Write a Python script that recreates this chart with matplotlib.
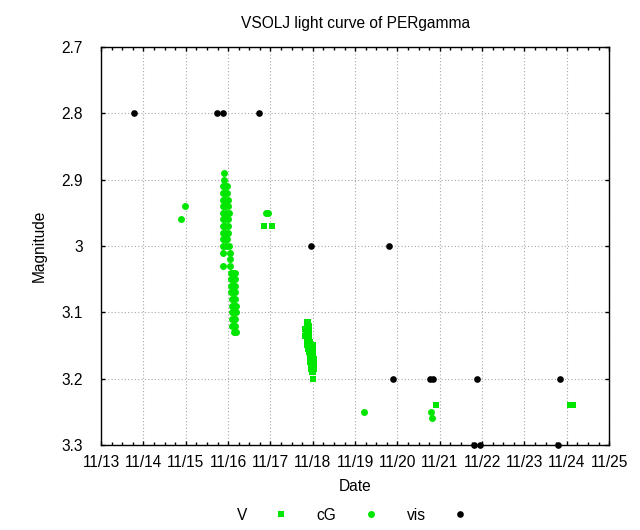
import matplotlib
matplotlib.use('Agg')
import matplotlib.pyplot as plt
from matplotlib.ticker import MultipleLocator, FuncFormatter

plt.rcParams['font.family'] = ['Liberation Sans', 'DejaVu Sans']

# ── data (day of November, magnitude) ────────────────────────────────────────

v_date = [16.85, 17.03, 20.92, 24.07, 24.15,
          17.87, 17.89, 17.86, 17.90, 17.81, 17.86, 17.91, 17.85, 17.91,
          17.81, 17.86, 17.90, 17.86, 17.92, 17.87, 17.93, 17.87, 17.94, 18.00,
          17.88, 17.95, 18.00, 17.90, 17.96, 18.01, 17.93, 18.01, 17.93, 18.02,
          17.94, 18.02, 17.96, 18.02, 17.96, 18.02, 17.97, 18.01, 18.00]
v_mag = [2.97, 2.97, 3.24, 3.24, 3.24,
         3.115, 3.115, 3.12, 3.12, 3.125, 3.125, 3.125, 3.13, 3.13,
         3.135, 3.135, 3.135, 3.14, 3.14, 3.145, 3.145, 3.15, 3.15, 3.15,
         3.155, 3.155, 3.155, 3.16, 3.16, 3.16, 3.165, 3.165, 3.17, 3.17,
         3.175, 3.175, 3.18, 3.18, 3.185, 3.185, 3.19, 3.19, 3.20]

cg_date = [14.89, 14.98, 16.90, 16.95, 19.21, 20.79, 20.81,
           15.90, 15.90,
           15.88, 15.93, 15.98, 15.88, 15.93, 15.98,
           15.88, 15.93, 15.99, 15.88, 15.93, 15.99,
           15.88, 15.94, 16.01, 15.88, 15.93, 15.99,
           15.88, 15.93, 15.99, 15.88, 15.93, 15.99,
           15.88, 15.93, 15.98, 15.88, 15.95, 16.03,
           15.87, 16.05, 16.04, 15.87, 16.05,
           16.06, 16.11, 16.16, 16.06, 16.11, 16.17,
           16.06, 16.12, 16.17, 16.06, 16.12, 16.17,
           16.09, 16.13, 16.17, 16.10, 16.14, 16.19,
           16.10, 16.14, 16.19, 16.09, 16.13, 16.17,
           16.10, 16.14, 16.17, 16.14, 16.18]
cg_mag = [2.96, 2.94, 2.95, 2.95, 3.25, 3.25, 3.26,
          2.89, 2.90,
          2.91, 2.91, 2.91, 2.92, 2.92, 2.92,
          2.93, 2.93, 2.93, 2.94, 2.94, 2.94,
          2.95, 2.95, 2.95, 2.96, 2.96, 2.96,
          2.97, 2.97, 2.97, 2.98, 2.98, 2.98,
          2.99, 2.99, 2.99, 3.00, 3.00, 3.00,
          3.01, 3.01, 3.02, 3.03, 3.03,
          3.04, 3.04, 3.04, 3.05, 3.05, 3.05,
          3.06, 3.06, 3.06, 3.07, 3.07, 3.07,
          3.08, 3.08, 3.08, 3.09, 3.09, 3.09,
          3.10, 3.10, 3.10, 3.11, 3.11, 3.11,
          3.12, 3.12, 3.12, 3.13, 3.13]

vis_date = [13.78, 15.74, 15.88, 16.73, 17.96, 19.80, 19.89, 20.77, 20.84,
            21.88, 21.80, 21.95, 23.79, 23.84]
vis_mag = [2.8, 2.8, 2.8, 2.8, 3.0, 3.0, 3.2, 3.2, 3.2,
           3.2, 3.3, 3.3, 3.3, 3.2]

x_days = list(range(13, 26))

GREEN = '#00e600'
FS = 11.2

fig = plt.figure(figsize=(6.4, 5.3), dpi=100)
ax = fig.add_axes([0.158, 0.1604, 0.7937, 0.7509])

ax.plot(v_date, v_mag, 's', color=GREEN, ms=4.5, mew=0, label='V')
ax.plot(cg_date, cg_mag, 'o', color=GREEN, ms=5.0, mew=0, label='cG')
ax.plot(vis_date, vis_mag, 'o', color='black', ms=4.8, mew=0, label='vis', clip_on=False)

ax.set_xlim(13, 25)
ax.set_ylim(3.3, 2.7)
ax.set_xticks(x_days)
ax.xaxis.set_minor_locator(MultipleLocator(0.25))
ax.xaxis.set_major_formatter(FuncFormatter(lambda v, p: f"11/{int(round(v))}"))
ax.yaxis.set_major_locator(MultipleLocator(0.1))
ax.yaxis.set_major_formatter(FuncFormatter(lambda v, p: f"{v:g}"))

ax.tick_params(which='both', direction='in', top=True, right=True, labelsize=FS)
ax.tick_params(which='major', length=3, width=1)
ax.tick_params(which='minor', length=2, width=1)
ax.tick_params(axis='x', pad=7)
ax.tick_params(axis='y', pad=13)
ax.grid(True, which='major', linestyle=(0, (1, 2)), color='#a8a8a8', linewidth=0.8)
for s in ax.spines.values():
    s.set_linewidth(1.0)

ax.set_title('VSOLJ light curve of PERgamma', fontsize=FS, pad=14)
ax.set_xlabel('Date', fontsize=FS, labelpad=7)
ax.set_ylabel('Magnitude', fontsize=FS, labelpad=11)

fig.legend(loc='center', bbox_to_anchor=(0.561, 0.028), ncol=3, frameon=False,
           markerfirst=False, fontsize=FS, handlelength=2.8, handletextpad=0.8,
           columnspacing=0.9)

plt.savefig('out.png', dpi=100)
